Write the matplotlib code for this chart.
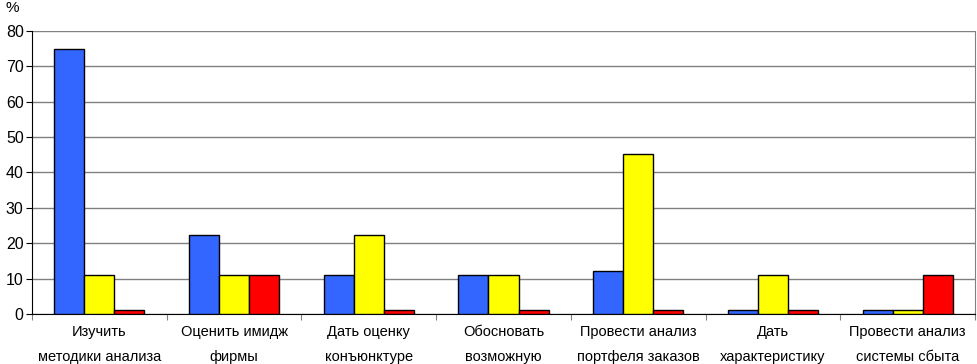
import matplotlib.pyplot as plt
import numpy as np

plt.rcParams['font.family'] = ['Liberation Sans', 'DejaVu Sans']

categories = [
    "Изучить\nметодики анализа",
    "Оценить имидж\nфирмы",
    "Дать оценку\nконъюнктуре",
    "Обосновать\nвозможную",
    "Провести анализ\nпортфеля заказов",
    "Дать\nхарактеристику",
    "Провести анализ\nсистемы сбыта",
]
blue_vals = [75, 22.2, 11.1, 11.1, 12.2, 1, 1]
yellow_vals = [11.1, 11.1, 22.2, 11.1, 45.3, 11.1, 1]
red_vals = [1, 11.1, 1, 1, 1, 1, 11.1]
y_ticks = [0, 10, 20, 30, 40, 50, 60, 70, 80]

fig = plt.figure(figsize=(9.77, 3.64), dpi=100)
ax = fig.add_axes([32 / 977, 50 / 364, 943 / 977, 283 / 364])

x = np.arange(len(categories))
w = 0.223
for off, vals, col in [(-w, blue_vals, '#3366ff'), (0, yellow_vals, '#ffff00'), (w, red_vals, '#ff0000')]:
    ax.bar(x + off, vals, width=w, color=col, edgecolor='black', linewidth=1, zorder=3)

ax.set_xlim(-0.5, len(categories) - 0.5)
ax.set_ylim(0, 80)
ax.set_yticks(y_ticks)
ax.set_yticklabels([str(v) for v in y_ticks], fontsize=11.5)
ax.yaxis.grid(True, color='#808080', linewidth=1, zorder=0)

ax.set_xticks(np.arange(len(categories) + 1) - 0.5)
ax.set_xticklabels([])
ax.tick_params(axis='x', length=4, direction='out', color='#808080')
ax.tick_params(axis='y', length=4, direction='out', pad=2)
for i, lab in enumerate(categories):
    ax.text(i, -3.2, lab, ha='center', va='top', fontsize=10.5, linespacing=1.95)

ax.spines['top'].set_visible(False)
ax.spines['right'].set_color('#808080')
ax.spines['bottom'].set_color('black')
ax.spines['left'].set_color('black')

fig.text(6 / 977, 1 - 8 / 364, '%', fontsize=11, va='center')

fig.savefig('out.png', dpi=100)
